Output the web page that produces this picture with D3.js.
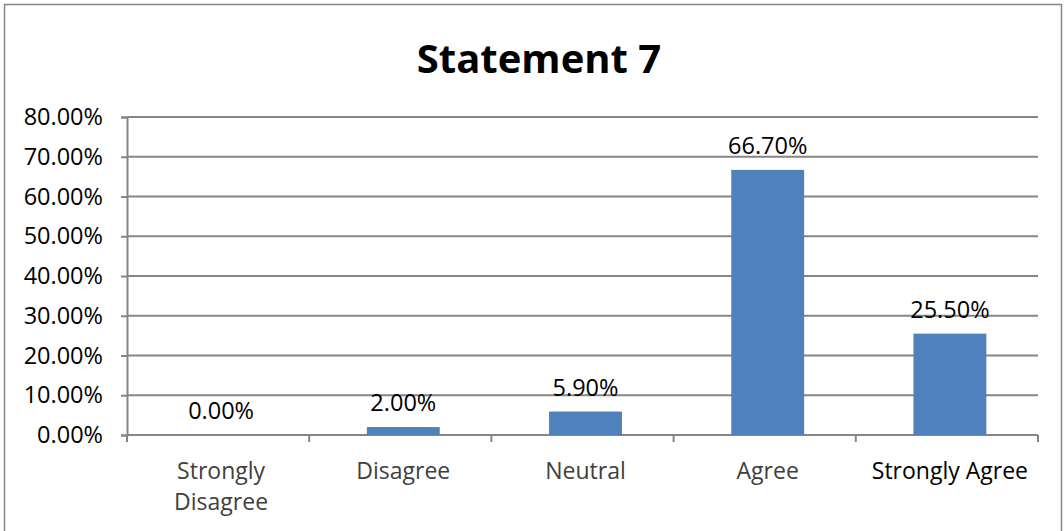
<!DOCTYPE html>
<html>
<head>
<meta charset="utf-8">
<script src="https://cdn.jsdelivr.net/npm/d3@7"></script>
<style>
  body { margin: 0; background: #fff; }
  svg { display: block; font-family: "Open Sans", sans-serif; }
</style>
</head>
<body>
<script>
// chart data
var categories = ["Strongly Disagree", "Disagree", "Neutral", "Agree", "Strongly Agree"];
var percents = [0.0, 2.0, 5.9, 66.7, 25.5];
var yTicks = [0, 10, 20, 30, 40, 50, 60, 70, 80];

var W = 1064, H = 531;
var margin = { top: 117, right: 26, bottom: 96, left: 127 };
var w = W - margin.left - margin.right;
var h = H - margin.top - margin.bottom;

var svg = d3.select("body").append("svg")
  .attr("width", W)
  .attr("height", H);

// outer chart border
svg.append("rect")
  .attr("x", 4.5).attr("y", 4.5)
  .attr("width", 1057).attr("height", 540)
  .attr("fill", "none")
  .attr("stroke", "#868686")
  .attr("stroke-width", 1.5);

// title
svg.append("text")
  .attr("x", 539).attr("y", 73)
  .attr("text-anchor", "middle")
  .style("font-size", "40px")
  .style("font-weight", "bold")
  .text("Statement 7");

var g = svg.append("g")
  .attr("transform", "translate(" + margin.left + "," + margin.top + ")");

var x = d3.scaleBand().domain(categories).range([3, w + 3]).paddingInner(0.6).paddingOuter(0.3);
var y = d3.scaleLinear().domain([0, 80]).range([h, 0]);

// gridlines
g.selectAll(".grid")
  .data(yTicks.slice(1))
  .enter().append("line")
  .attr("class", "grid")
  .attr("x1", 0).attr("x2", w)
  .attr("y1", function(d) { return y(d); })
  .attr("y2", function(d) { return y(d); })
  .attr("stroke", "#868686")
  .attr("stroke-width", 2);

// y axis
var yAxis = d3.axisLeft(y)
  .tickValues(yTicks)
  .tickSize(6)
  .tickPadding(18)
  .tickFormat(function(d) { return d.toFixed(2) + "%"; });

var yg = g.append("g").call(yAxis);
yg.select(".domain").attr("stroke", "#868686").attr("stroke-width", 2);
yg.selectAll(".tick line").attr("stroke", "#868686").attr("stroke-width", 2);
yg.selectAll(".tick text")
  .style("font-size", "23.5px")
  .style("font-family", "Open Sans, sans-serif")
  .attr("fill", "#000");

// x axis with ticks at category boundaries
var step = w / categories.length;
var xg = g.append("g").attr("transform", "translate(0," + h + ")");
xg.append("line")
  .attr("x1", 0).attr("x2", w)
  .attr("stroke", "#868686").attr("stroke-width", 2);
xg.selectAll(".xtick")
  .data(d3.range(categories.length + 1))
  .enter().append("line")
  .attr("x1", function(i) { return i * step; })
  .attr("x2", function(i) { return i * step; })
  .attr("y1", 0).attr("y2", 7)
  .attr("stroke", "#868686").attr("stroke-width", 2);

// category labels (wrap long ones like Excel does)
xg.selectAll(".xlabel")
  .data(categories)
  .enter().append("text")
  .attr("class", "xlabel")
  .attr("text-anchor", "middle")
  .attr("fill", function(d, i) { return i === 4 ? "#000" : "#404040"; })
  .style("font-size", "23px")
  .each(function(d, i) {
    var t = d3.select(this);
    var cx = x(d) + x.bandwidth() / 2;
    var lines = i === 0 ? d.split(" ") : [d];
    lines.forEach(function(l, k) {
      t.append("tspan").attr("x", cx).attr("y", 44 + k * 31).text(l);
    });
  });

// bars
g.selectAll(".bar")
  .data(percents)
  .enter().append("rect")
  .attr("class", "bar")
  .attr("x", function(d, i) { return x(categories[i]); })
  .attr("width", x.bandwidth())
  .attr("y", function(d) { return y(d); })
  .attr("height", function(d) { return h - y(d); })
  .attr("fill", "#4F81BD");

// value labels
g.selectAll(".val")
  .data(percents)
  .enter().append("text")
  .attr("class", "val")
  .attr("text-anchor", "middle")
  .attr("x", function(d, i) { return x(categories[i]) + x.bandwidth() / 2; })
  .attr("y", function(d) { return y(d) - 16; })
  .style("font-size", "23.5px")
  .attr("fill", "#000")
  .text(function(d) { return d.toFixed(2) + "%"; });
</script>
</body>
</html>
